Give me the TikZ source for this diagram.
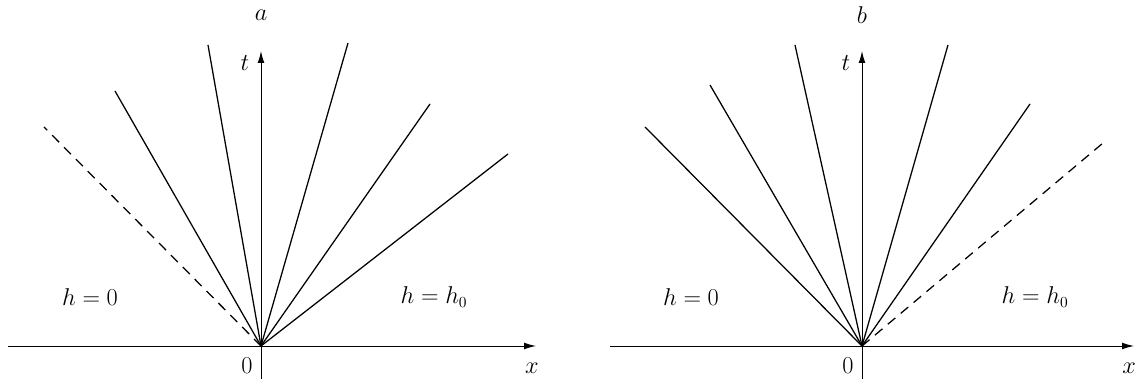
\documentclass[tikz,border=0pt]{standalone}
\usetikzlibrary{arrows.meta}
\begin{document}
\begin{tikzpicture}[x=0.025cm,y=0.025cm,
    axis/.style={line width=0.7pt,-{Latex[length=3mm,width=1.7mm]}},
    ray/.style={line width=0.9pt},
    dashray/.style={ray,dash pattern=on 7pt off 5pt},
    lbl/.style={font=\fontsize{16}{19}\selectfont}]
    \useasboundingbox (0,0) rectangle (1137,379);

    % panel a
    \coordinate (Oa) at (261,33);
    \coordinate (xa0) at (8,33);
    \coordinate (xa1) at (536,33);
    \coordinate (ta0) at (261,0);
    \coordinate (ta1) at (261,328);
    \draw[axis] (xa0) -- (xa1);
    \draw[axis] (ta0) -- (ta1);
    \foreach \px/\py [count=\k] in {115/288, 208/334, 348/336, 430/275, 508/225} {
        \coordinate (ra\k) at (\px,\py);
        \draw[ray] (Oa) -- (ra\k);
    }
    \coordinate (da) at (44,252);
    \draw[dashray] (Oa) -- (da);
    \node[lbl] (capa) at (261,364) {$a$};
    \node[lbl] (tla) at (245,316) {$t$};
    \node[lbl] (xla) at (532,11) {$x$};
    \node[lbl] (za) at (247,13) {$0$};
    \node[lbl] (hla) at (90,82) {$h=0$};
    \node[lbl] (hra) at (434,82) {$h=h_0$};

    % panel b
    \coordinate (Ob) at (862,33);
    \coordinate (xb0) at (610,33);
    \coordinate (xb1) at (1134,33);
    \coordinate (tb0) at (862,0);
    \coordinate (tb1) at (862,328);
    \draw[axis] (xb0) -- (xb1);
    \draw[axis] (tb0) -- (tb1);
    \foreach \px/\py [count=\k] in {645/252, 710/294, 795/334, 948/334, 1030/275} {
        \coordinate (rb\k) at (\px,\py);
        \draw[ray] (Ob) -- (rb\k);
    }
    \coordinate (db) at (1103,236);
    \draw[dashray] (Ob) -- (db);
    \node[lbl] (capb) at (862,364) {$b$};
    \node[lbl] (tlb) at (846,316) {$t$};
    \node[lbl] (xlb) at (1129,11) {$x$};
    \node[lbl] (zb) at (848,13) {$0$};
    \node[lbl] (hlb) at (691,82) {$h=0$};
    \node[lbl] (hrb) at (1035,82) {$h=h_0$};
\end{tikzpicture}
\end{document}
